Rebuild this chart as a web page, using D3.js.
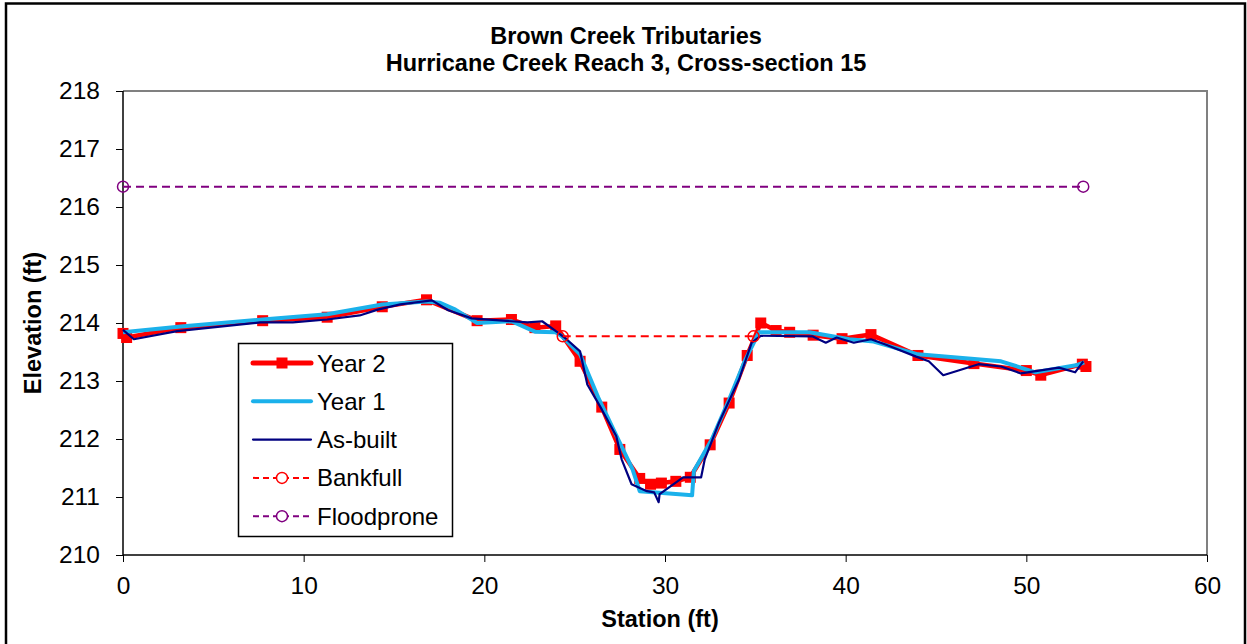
<!DOCTYPE html>
<html>
<head>
<meta charset="utf-8">
<script src="https://cdn.jsdelivr.net/npm/d3@7/dist/d3.min.js"></script>
<style>
  html, body { margin: 0; padding: 0; background: #fff; }
  svg { display: block; font-family: Arial, "Liberation Sans", sans-serif; }
</style>
</head>
<body>
<svg id="chart" width="1247" height="644"></svg>
<script>
// ---- Data ----
const titleLines = ["Brown Creek Tributaries", "Hurricane Creek Reach 3, Cross-section 15"];
const xTicks = [0, 10, 20, 30, 40, 50, 60];
const yTicks = [210, 211, 212, 213, 214, 215, 216, 217, 218];

const year2Station = [0, 0.2, 3.2, 7.73, 11.3, 14.35, 16.8, 19.6, 21.5, 22.8, 23.95, 25.3, 26.5, 27.5, 28.6, 29.2, 29.8, 30.6, 31.4, 32.5, 33.55, 34.55, 35.3, 36.15, 36.9, 38.2, 39.8, 41.4, 44.0, 47.1, 50.0, 50.8, 53.1, 53.3];
const year2Elev =    [213.82, 213.75, 213.92, 214.04, 214.1, 214.28, 214.4, 214.04, 214.06, 213.92, 213.95, 213.34, 212.55, 211.82, 211.32, 211.22, 211.24, 211.27, 211.34, 211.9, 212.62, 213.44, 214.0, 213.87, 213.84, 213.79, 213.73, 213.8, 213.44, 213.3, 213.18, 213.1, 213.29, 213.25];

const year1Station = [0, 3.2, 7.73, 11.3, 14.35, 16.8, 17.55, 18.4, 19.6, 21.5, 22.8, 23.95, 24.3, 25.3, 26.3, 27.4, 28.2, 28.6, 31.5, 31.6, 32.6, 33.55, 34.45, 35.2, 38.0, 40.2, 41.55, 44.0, 48.6, 50.5, 52.75, 53.2];
const year1Elev =    [213.84, 213.94, 214.06, 214.15, 214.32, 214.37, 214.35, 214.23, 214.0, 214.03, 213.85, 213.84, 213.77, 213.46, 212.72, 212.0, 211.48, 211.1, 211.03, 211.45, 212.0, 212.68, 213.37, 213.84, 213.84, 213.72, 213.68, 213.46, 213.34, 213.15, 213.27, 213.32];

const asBuiltStation = [0, 0.6, 3.0, 7.6, 9.4, 11.3, 13.1, 14.1, 15.35, 17.1, 18.0, 19.3, 21.5, 22.4, 23.2, 24.0, 24.55, 25.3, 25.7, 26.5, 27.3, 27.6, 28.15, 29.0, 29.4, 29.65, 29.7, 31.0, 32.0, 32.2, 33.0, 34.1, 34.8, 35.3, 38.15, 38.9, 39.5, 40.45, 41.4, 42.2, 43.9, 44.6, 45.4, 47.35, 48.6, 49.7, 51.8, 52.7, 53.15];
const asBuiltElev =    [213.88, 213.72, 213.86, 214.01, 214.01, 214.06, 214.13, 214.23, 214.32, 214.39, 214.22, 214.08, 214.03, 214.01, 214.03, 213.85, 213.72, 213.51, 212.94, 212.51, 212.05, 211.65, 211.22, 211.1, 211.08, 210.91, 211.05, 211.34, 211.34, 211.65, 212.29, 213.03, 213.66, 213.78, 213.77, 213.66, 213.75, 213.66, 213.72, 213.63, 213.42, 213.34, 213.1, 213.29, 213.25, 213.13, 213.23, 213.15, 213.34];

const bankfullStation = [24.34, 34.9];
const bankfullElev = [213.77, 213.77];
const floodStation = [0, 53.15];
const floodElev = [216.35, 216.35];

const legendLabels = ["Year 2", "Year 1", "As-built", "Bankfull", "Floodprone"];

// ---- Layout ----
const svg = d3.select("#chart");
const W = 1247, H = 644;
const plot = { left: 123, right: 1207, top: 91, bottom: 555 };

const x = d3.scaleLinear().domain([0, 60]).range([plot.left, plot.right]);
const y = d3.scaleLinear().domain([210, 218]).range([plot.bottom, plot.top]);

svg.append("rect").attr("x", 0).attr("y", 0).attr("width", W).attr("height", H).attr("fill", "#fff");
// outer frame
svg.append("rect").attr("x", 6).attr("y", 3.5).attr("width", 1239).attr("height", 650)
  .attr("fill", "none").attr("stroke", "#000").attr("stroke-width", 2.5);

// plot border (gray top/right)
svg.append("path")
  .attr("d", `M${plot.left},${plot.top}H${plot.right}V${plot.bottom}`)
  .attr("fill", "none").attr("stroke", "#808080").attr("stroke-width", 2);

// axes
const xAxis = d3.axisBottom(x).tickValues(xTicks).tickSize(7).tickPadding(15).tickFormat(d3.format("d"));
const yAxis = d3.axisLeft(y).tickValues(yTicks).tickSize(7).tickPadding(16).tickFormat(d3.format("d"));

const gx = svg.append("g").attr("transform", `translate(0,${plot.bottom})`).call(xAxis);
const gy = svg.append("g").attr("transform", `translate(${plot.left},0)`).call(yAxis);
[gx, gy].forEach(g => {
  g.select(".domain").attr("stroke", "#000").attr("stroke-width", 1.5);
  g.selectAll(".tick line").attr("stroke", "#000").attr("stroke-width", 1);
  g.selectAll(".tick text").attr("fill", "#000").style("font-size", "24.5px")
    .style("font-family", "Arial, 'Liberation Sans', sans-serif");
});
gx.select(".domain").attr("d", `M${plot.left},0H${plot.right}`);
gy.select(".domain").attr("d", `M0,${plot.top}V${plot.bottom}`);

// series helpers
const zip = (xs, ys) => xs.map((v, i) => [v, ys[i]]);
const line = d3.line().x(d => x(d[0])).y(d => y(d[1]));

const year2 = zip(year2Station, year2Elev);
const year1 = zip(year1Station, year1Elev);
const asBuilt = zip(asBuiltStation, asBuiltElev);
const bankfull = zip(bankfullStation, bankfullElev);
const flood = zip(floodStation, floodElev);

const RED = "#FF0000", BLUE = "#1BB1EB", NAVY = "#000080", PURPLE = "#800080";
const SQ = 11;

// Year 2
svg.append("path").datum(year2).attr("d", line).attr("fill", "none")
  .attr("stroke", RED).attr("stroke-width", 4.5).attr("stroke-linejoin", "round");
svg.append("g").selectAll("rect").data(year2).join("rect")
  .attr("x", d => x(d[0]) - SQ / 2).attr("y", d => y(d[1]) - SQ / 2)
  .attr("width", SQ).attr("height", SQ).attr("fill", RED);

// Year 1
svg.append("path").datum(year1).attr("d", line).attr("fill", "none")
  .attr("stroke", BLUE).attr("stroke-width", 4).attr("stroke-linejoin", "round");

// As-built
svg.append("path").datum(asBuilt).attr("d", line).attr("fill", "none")
  .attr("stroke", NAVY).attr("stroke-width", 2.2).attr("stroke-linejoin", "round");

// Bankfull
svg.append("path").datum(bankfull).attr("d", line).attr("fill", "none")
  .attr("stroke", RED).attr("stroke-width", 2).attr("stroke-dasharray", "8,5");
svg.append("g").selectAll("circle").data(bankfull).join("circle")
  .attr("cx", d => x(d[0])).attr("cy", d => y(d[1])).attr("r", 5.5)
  .attr("fill", "none").attr("stroke", RED).attr("stroke-width", 1.5);

// Floodprone
svg.append("path").datum(flood).attr("d", line).attr("fill", "none")
  .attr("stroke", PURPLE).attr("stroke-width", 2).attr("stroke-dasharray", "8,5");
svg.append("g").selectAll("circle").data(flood).join("circle")
  .attr("cx", d => x(d[0])).attr("cy", d => y(d[1])).attr("r", 5.5)
  .attr("fill", "none").attr("stroke", PURPLE).attr("stroke-width", 1.5);

// Titles
svg.append("g").selectAll("text").data(titleLines).join("text")
  .attr("x", 626).attr("y", (d, i) => 44 + i * 27)
  .attr("text-anchor", "middle").style("font-size", "23.5px").style("font-weight", "bold")
  .text(d => d);

svg.append("text").attr("x", 660).attr("y", 627).attr("text-anchor", "middle")
  .style("font-size", "23.5px").style("font-weight", "bold").text("Station (ft)");
svg.append("text").attr("transform", "translate(41,323) rotate(-90)").attr("text-anchor", "middle")
  .style("font-size", "23.5px").style("font-weight", "bold").text("Elevation (ft)");

// Legend
const lg = svg.append("g");
lg.append("rect").attr("x", 238.5).attr("y", 343.5).attr("width", 214).attr("height", 193)
  .attr("fill", "#fff").attr("stroke", "#000").attr("stroke-width", 1.5);
const lx0 = 253, lx1 = 311, ly0 = 363, ldy = 38.3;
const legendStyles = [
  { stroke: RED, w: 5, dash: null, marker: "square" },
  { stroke: BLUE, w: 4, dash: null, marker: null },
  { stroke: NAVY, w: 2.2, dash: null, marker: null },
  { stroke: RED, w: 2, dash: "6,4", marker: "circle" },
  { stroke: PURPLE, w: 2, dash: "6,4", marker: "circle" }
];
legendLabels.forEach((lab, i) => {
  const s = legendStyles[i];
  const yy = ly0 + i * ldy;
  lg.append("line").attr("x1", lx0).attr("x2", lx1).attr("y1", yy).attr("y2", yy)
    .attr("stroke", s.stroke).attr("stroke-width", s.w)
    .attr("stroke-dasharray", s.dash).attr("stroke-linecap", s.dash ? "butt" : "round");
  const mx = (lx0 + lx1) / 2;
  if (s.marker === "square") {
    lg.append("rect").attr("x", mx - SQ / 2).attr("y", yy - SQ / 2).attr("width", SQ).attr("height", SQ).attr("fill", s.stroke);
  } else if (s.marker === "circle") {
    lg.append("circle").attr("cx", mx).attr("cy", yy).attr("r", 5.5).attr("fill", "#fff")
      .attr("stroke", s.stroke).attr("stroke-width", 1.5);
  }
  lg.append("text").attr("x", 317).attr("y", yy + 8.5).style("font-size", "24px").text(lab);
});
</script>
</body>
</html>
